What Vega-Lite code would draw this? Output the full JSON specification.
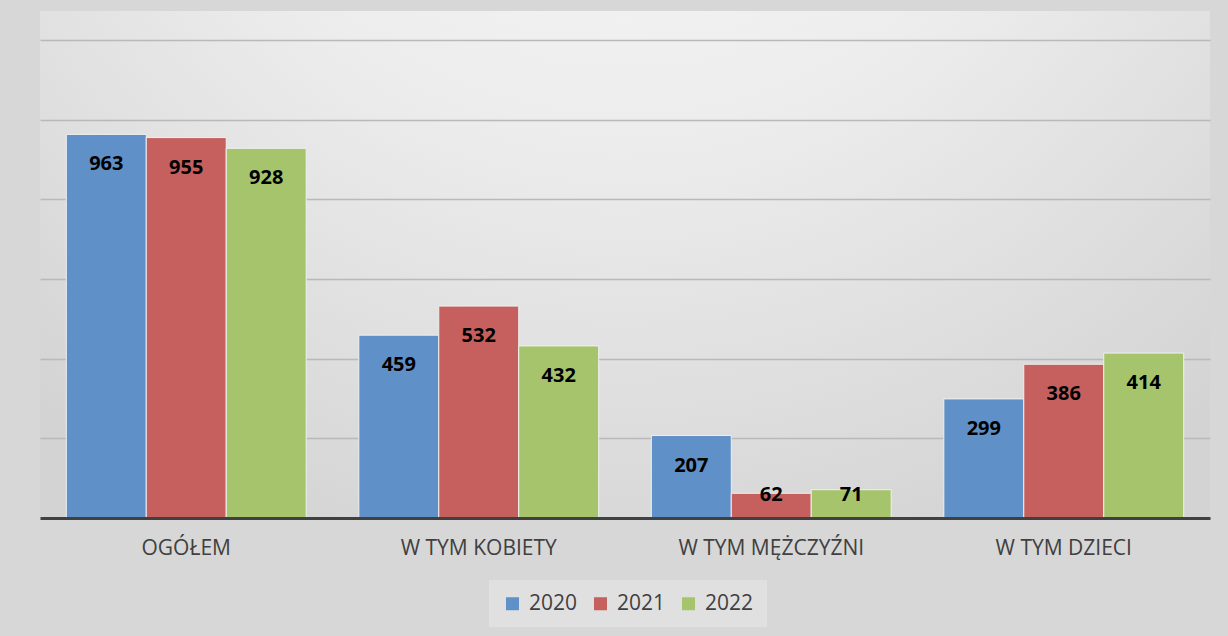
{
  "$schema": "https://vega.github.io/schema/vega-lite/v6.json",
  "width": 1170,
  "height": 507,
  "autosize": {"type": "none"},
  "padding": {"left": 40, "top": 11, "right": 18, "bottom": 118},
  "background": "#d7d7d7",
  "config": {
    "font": "Open Sans",
    "view": {
      "stroke": null,
      "fill": {
        "gradient": "radial",
        "x1": 0.5, "y1": 0.0, "r1": 0,
        "x2": 0.5, "y2": 0.0, "r2": 0.8,
        "stops": [
          {"offset": 0, "color": "#fbfbfb"},
          {"offset": 0.5, "color": "#ececec"},
          {"offset": 1, "color": "#d3d3d3"}
        ]
      }
    }
  },
  "data": {
    "values": [
      {"kategoria": "OGÓŁEM", "rok": "2020", "wartosc": 963},
      {"kategoria": "OGÓŁEM", "rok": "2021", "wartosc": 955},
      {"kategoria": "OGÓŁEM", "rok": "2022", "wartosc": 928},
      {"kategoria": "W TYM KOBIETY", "rok": "2020", "wartosc": 459},
      {"kategoria": "W TYM KOBIETY", "rok": "2021", "wartosc": 532},
      {"kategoria": "W TYM KOBIETY", "rok": "2022", "wartosc": 432},
      {"kategoria": "W TYM MĘŻCZYŹNI", "rok": "2020", "wartosc": 207},
      {"kategoria": "W TYM MĘŻCZYŹNI", "rok": "2021", "wartosc": 62},
      {"kategoria": "W TYM MĘŻCZYŹNI", "rok": "2022", "wartosc": 71},
      {"kategoria": "W TYM DZIECI", "rok": "2020", "wartosc": 299},
      {"kategoria": "W TYM DZIECI", "rok": "2021", "wartosc": 386},
      {"kategoria": "W TYM DZIECI", "rok": "2022", "wartosc": 414}
    ]
  },
  "encoding": {
    "x": {
      "field": "kategoria",
      "type": "nominal",
      "sort": null,
      "scale": {"paddingInner": 0.18, "paddingOuter": 0.09},
      "axis": {
        "title": null,
        "labelAngle": 0,
        "labelFontSize": 21,
        "labelColor": "#404040",
        "labelPadding": 19,
        "labelLimit": 0,
        "ticks": false,
        "domainColor": "#404040",
        "domainWidth": 3,
        "grid": false,
        "zindex": 1
      }
    },
    "xOffset": {"field": "rok", "type": "nominal", "scale": {"paddingInner": 0, "paddingOuter": 0}},
    "y": {
      "field": "wartosc",
      "type": "quantitative",
      "scale": {"domain": [0, 1272.8], "nice": false, "zero": true},
      "axis": {
        "title": null,
        "labels": false,
        "ticks": false,
        "domain": false,
        "values": [200, 400, 600, 800, 1000, 1200],
        "gridColor": "#b9b9b9",
        "gridWidth": 1.5
      }
    }
  },
  "layer": [
    {
      "mark": {"type": "bar", "stroke": "#eef0f2", "strokeWidth": 1},
      "encoding": {
        "color": {
          "field": "rok",
          "type": "nominal",
          "scale": {"domain": ["2020", "2021", "2022"], "range": ["#6090c8", "#c6605e", "#a6c46c"]},
          "legend": {
            "title": null,
            "orient": "none",
            "direction": "horizontal",
            "legendX": 449,
            "legendY": 569,
            "padding": 13,
            "fillColor": "#e0e0e0",
            "symbolType": "square",
            "symbolSize": 169,
            "symbolStrokeWidth": 0,
            "symbolOpacity": 1,
            "labelFontSize": 21,
            "labelColor": "#404040",
            "labelOffset": 6,
            "columnPadding": 12
          }
        }
      }
    },
    {
      "transform": [{"filter": "datum.wartosc >= 100"}],
      "mark": {"type": "text", "fontSize": 20, "fontWeight": "bold", "color": "#000000", "dy": 30, "baseline": "middle"},
      "encoding": {"text": {"field": "wartosc", "type": "quantitative"}}
    },
    {
      "transform": [{"filter": "datum.wartosc < 100"}],
      "mark": {"type": "text", "fontSize": 20, "fontWeight": "bold", "color": "#000000", "dy": -23, "baseline": "middle"},
      "encoding": {
        "y": {"datum": 0, "type": "quantitative"},
        "text": {"field": "wartosc", "type": "quantitative"}
      }
    }
  ]
}
